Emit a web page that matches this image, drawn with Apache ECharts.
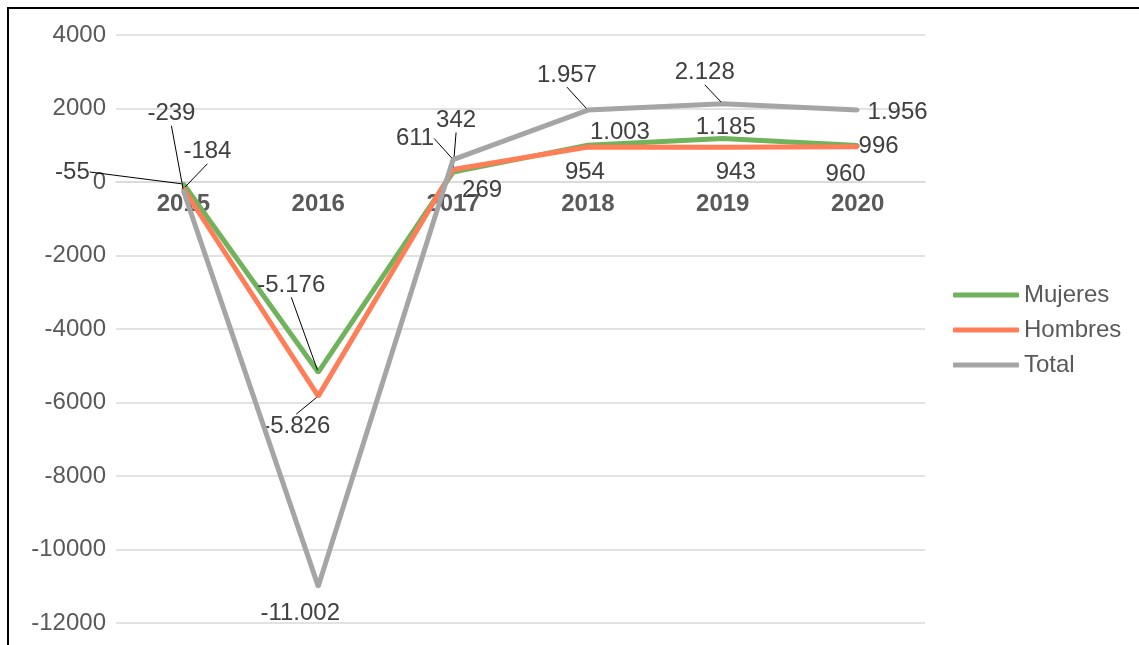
<!DOCTYPE html>
<html>
<head>
<meta charset="utf-8">
<script src="https://cdn.jsdelivr.net/npm/echarts@6/dist/echarts.min.js"></script>
<style>
html,body{margin:0;padding:0;background:#fff;}
#main{width:1139px;height:645px;}
#frame{position:absolute;left:7px;top:7px;right:0;bottom:0;border-left:2px solid #000;border-top:2px solid #000;pointer-events:none;}
</style>
</head>
<body>
<div id="main"></div>
<div id="frame"></div>
<script>
var years = ['2015', '2016', '2017', '2018', '2019', '2020'];
var mujeres = [-55, -5176, 269, 1003, 1185, 996];
var hombres = [-184, -5826, 342, 954, 943, 960];
var total = [-239, -11002, 611, 1957, 2128, 1956];
var yTicks = {min: -12000, max: 4000, interval: 2000};

// where each value label sits, relative to its point (px)
var labelOffsets = [
	[[-111, -12], [-27, -87], [29, 18], [32, -13], [3, -11], [21, 1]],
	[[24, -37], [-22, 30], [3, -49], [-3, 25], [13, 25], [-12, 28]],
	[[-12, -77], [-18, 27], [-38, -21], [-21, -35], [-18, -31], [40, 2]]
];
var leaders = [
	[true, true, false, false, false, false],
	[true, true, true, false, false, false],
	[true, false, true, true, true, false]
];

function fmt(v) {
	var s = Math.abs(v).toString().replace(/\B(?=(\d{3})+(?!\d))/g, '.');
	return (v < 0 ? '-' : '') + s;
}

function items(vals, si) {
	return vals.map(function (v, i) {
		return {value: v, labelLine: {show: leaders[si][i]}};
	});
}

var dom = document.getElementById('main');
var myChart = echarts.init(dom);
var font = '"Liberation Sans", Arial, sans-serif';
var colors = ['#70B35C', '#FF7D57', '#A5A5A5'];
var names = ['Mujeres', 'Hombres', 'Total'];
var allData = [mujeres, hombres, total];

var series = [];
for (var s = 0; s < 3; s++) {
	series.push({
		name: names[s],
		type: 'line',
		data: items(allData[s], s),
		color: colors[s],
		symbol: 'circle',
		symbolSize: 4,
		showSymbol: true,
		itemStyle: {color: colors[s], borderWidth: 0},
		lineStyle: {width: 5, color: colors[s]},
		z: 2 + s,
		label: {
			show: true,
			position: 'top',
			distance: 0,
			color: '#404040',
			fontSize: 24,
			fontFamily: font,
			formatter: function (p) { return fmt(p.value); }
		},
		labelLine: {show: false, lineStyle: {color: '#000', width: 1}},
		labelLayout: (function (si) {
			return function (params) {
				var r = params.rect;
				var off = labelOffsets[si][params.dataIndex];
				return {
					x: r.x + r.width / 2 + off[0],
					y: r.y + r.height / 2 + off[1],
					align: 'center',
					verticalAlign: 'middle'
				};
			};
		})(s)
	});
}

option = {
	backgroundColor: '#fff',
	animation: false,
	textStyle: {fontFamily: font},
	grid: {left: 116, right: 214, top: 35, bottom: 22, containLabel: false, outerBoundsMode: 'none'},
	legend: {
		orient: 'vertical',
		left: 953,
		top: 283,
		padding: 0,
		itemWidth: 66,
		itemHeight: 5,
		itemGap: 11,
		icon: 'roundRect',
		textStyle: {fontSize: 24, color: '#595959', fontFamily: font},
		data: names
	},
	xAxis: {
		type: 'category',
		data: years,
		axisLine: {onZero: false, lineStyle: {color: '#d9d9d9', width: 1.5}},
		axisTick: {show: false},
		axisLabel: {fontSize: 24, fontWeight: 'bold', color: '#595959', margin: 10, fontFamily: font}
	},
	yAxis: {
		type: 'value',
		min: yTicks.min,
		max: yTicks.max,
		interval: yTicks.interval,
		axisLine: {show: false},
		axisTick: {show: false},
		splitLine: {lineStyle: {color: '#d9d9d9', width: 1.5}},
		axisLabel: {
			fontSize: 24, color: '#595959', margin: 10, fontFamily: font,
			formatter: function (v) { return String(v); }
		}
	},
	series: series
};
myChart.setOption(option, true);

// put the category axis (and its labels) on the zero line
var zeroY = myChart.convertToPixel({yAxisIndex: 0}, 0);
var bottomY = myChart.convertToPixel({yAxisIndex: 0}, yTicks.min);
myChart.setOption({xAxis: {offset: zeroY - bottomY}});
</script>
</body>
</html>
